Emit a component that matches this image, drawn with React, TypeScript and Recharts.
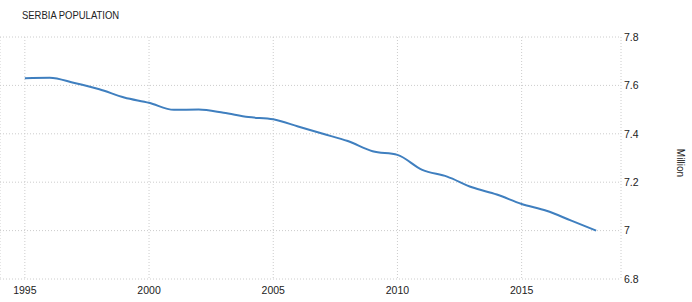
import React from 'react';
import { LineChart, Line, XAxis, YAxis, CartesianGrid } from 'recharts';

const years = [1995, 1996, 1997, 1998, 1999, 2000, 2001, 2002, 2003, 2004, 2005, 2006, 2007, 2008, 2009, 2010, 2011, 2012, 2013, 2014, 2015, 2016, 2017, 2018];
const population = [7.63, 7.632, 7.61, 7.584, 7.55, 7.528, 7.499, 7.5, 7.487, 7.469, 7.46, 7.43, 7.4, 7.37, 7.328, 7.313, 7.251, 7.223, 7.179, 7.149, 7.11, 7.082, 7.041, 7.0];
const xTicks = [1995, 2000, 2005, 2010, 2015];
const yTicks = [6.8, 7, 7.2, 7.4, 7.6, 7.8];
const title = 'SERBIA POPULATION';
const unitLabel = 'Million';

const data = years.map((y, i) => ({ year: y, value: population[i] }));

const FONT = "'Liberation Sans', Arial, sans-serif";

const MillionLabel = (props: any) => {
  const vb = props.viewBox || { x: 621, y: 37, width: 71, height: 242 };
  const cx = vb.x + 59;
  const cy = vb.y + vb.height / 2 + 5;
  return (
    <text
      x={cx}
      y={cy}
      textAnchor="middle"
      dominantBaseline="central"
      transform={`rotate(90, ${cx}, ${cy})`}
      fontSize={10}
      fontFamily={FONT}
      fill="#222"
    >
      {unitLabel}
    </text>
  );
};

export default function App() {
  return (
    <div style={{ position: 'absolute', left: 0, top: 0, width: 692, height: 302, background: '#fff', fontFamily: FONT }}>
      <div
        style={{
          position: 'absolute',
          left: 22,
          top: 9,
          fontSize: 11,
          color: '#222',
          lineHeight: 'normal',
          whiteSpace: 'nowrap',
          transform: 'scaleX(0.86)',
          transformOrigin: 'left top',
        }}
      >
        {title}
      </div>
      <LineChart width={692} height={302} data={data} margin={{ top: 37, right: 0, bottom: 0, left: 0 }}>
        <CartesianGrid stroke="#cccccc" strokeDasharray="1 2" />
        <XAxis
          dataKey="year"
          type="number"
          domain={[1994, 2019]}
          ticks={xTicks}
          height={23}
          axisLine={false}
          tickLine={false}
          tickSize={0}
          tickMargin={8}
          tick={{ fontSize: 10.5, fill: '#222', fontFamily: FONT }}
          interval={0}
        />
        <YAxis
          orientation="right"
          type="number"
          domain={[6.8, 7.8]}
          ticks={yTicks}
          width={71}
          axisLine={false}
          tickLine={false}
          tickSize={0}
          tickMargin={3}
          tick={{ fontSize: 10.5, fill: '#222', fontFamily: FONT }}
          tickFormatter={(v: number) => String(v)}
          interval={0}
          label={<MillionLabel />}
        />
        <Line
          type="monotone"
          dataKey="value"
          stroke="#3f7fbf"
          strokeWidth={2}
          dot={false}
          activeDot={false}
          isAnimationActive={false}
        />
      </LineChart>
    </div>
  );
}
